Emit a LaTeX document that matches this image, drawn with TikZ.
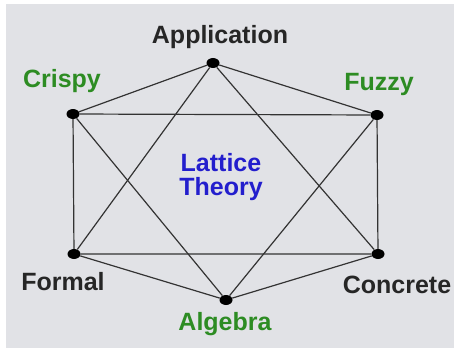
\documentclass[tikz,border=0pt]{standalone}
\usepackage{fontspec}
\setmainfont{Liberation Sans}
\usetikzlibrary{shapes.geometric}

\definecolor{bgray}{RGB}{225,226,230}
\definecolor{lgreen}{RGB}{45,140,35}
\definecolor{lblue}{RGB}{35,30,205}

\begin{document}
\begin{tikzpicture}[
  x=1pt, y=-1pt,
  font=\fontsize{25}{24}\selectfont\bfseries,
  dot/.style={ellipse, fill=black, inner sep=0pt,
              minimum width=13pt, minimum height=10pt},
  lbl/.style={anchor=base, inner sep=0pt, text=black!85},
  glbl/.style={lbl, text=lgreen},
  edge/.style={line width=1.2pt, draw=black!80},
]

% Background
\fill[white] (0,0) rectangle (454,350);
\fill[bgray] (6,4) rectangle (454,348);
\useasboundingbox (0,0) rectangle (454,350);

% Vertices
\node[dot] (app)  at (213,63)  {};
\node[dot] (fuz)  at (377,115) {};
\node[dot] (con)  at (378,254) {};
\node[dot] (alg)  at (226,300) {};
\node[dot] (for)  at (74,254)  {};
\node[dot] (cri)  at (73,114)  {};

% Hexagon
\draw[edge] (app) -- (fuz) -- (con) -- (alg) -- (for) -- (cri) -- (app);

% Two triangles
\draw[edge] (app) -- (for) -- (con) -- (app);
\draw[edge] (cri) -- (fuz) -- (alg) -- (cri);

% Labels
\node[lbl]  (tapp) at (220,44)  {Application};
\node[glbl] (tcri) at (62,88)   {Crispy};
\node[glbl] (tfuz) at (379,91)  {Fuzzy};
\node[lbl]  (tfor) at (63,290)  {Formal};
\node[lbl]  (tcon) at (397,293) {Concrete};
\node[glbl] (talg) at (225,330) {Algebra};

% Centre
\node[lbl, text=lblue, align=center] (cen) at (221,195)
  {Lattice\\Theory};

\end{tikzpicture}
\end{document}
